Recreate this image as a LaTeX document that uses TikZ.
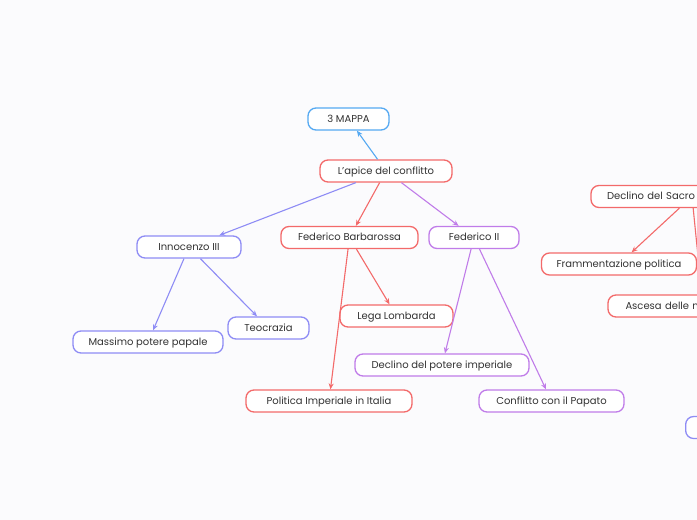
\documentclass[tikz,border=0pt]{standalone}
\usepackage{fontspec}
\setmainfont{Poppins}
\usetikzlibrary{arrows.meta}
\definecolor{mapblue}{HTML}{55A9F2}
\definecolor{mapred}{HTML}{F36A6A}
\definecolor{mapindigo}{HTML}{8E8CF5}
\definecolor{mappurple}{HTML}{C07CE9}
\definecolor{paper}{HTML}{FBFBFD}
\definecolor{ink}{HTML}{333333}

\begin{document}
\begin{tikzpicture}[
    x=1pt, y=-1pt,
    topic/.style={
        draw, line width=1.3pt, fill=white,
        rectangle, rounded corners=8pt,
        minimum height=22pt, inner sep=2pt,
        text height=8pt, text depth=2pt,
        font=\fontsize{10}{11}\selectfont, text=ink,
    },
    link/.style={line width=1.1pt, -{Stealth[length=6pt,width=5pt]}},
]
\fill[paper] (0,0) rectangle (697,520);
\useasboundingbox (0,0) rectangle (697,520);
\clip (0,0) rectangle (697,520);

% Center
\node[topic, draw=mapblue, minimum width=81pt] (mappa) at (348.5,119) {3 MAPPA};
\node[topic, draw=mapred, minimum width=132pt] (apice) at (386,171) {L’apice del conflitto};

% First level
\node[topic, draw=mapindigo, minimum width=104pt] (innocenzo) at (189,247) {Innocenzo III};
\node[topic, draw=mapred, minimum width=137pt] (barbarossa) at (349.5,237.5) {Federico Barbarossa};
\node[topic, draw=mappurple, minimum width=90pt] (federico) at (474,237.5) {Federico II};

% Second level
\node[topic, draw=mapindigo, minimum width=150pt] (massimo) at (148,342) {Massimo potere papale};
\node[topic, draw=mapindigo, minimum width=81pt] (teocrazia) at (268.5,328) {Teocrazia};
\node[topic, draw=mapred, minimum width=113pt] (lega) at (396.5,316) {Lega Lombarda};
\node[topic, draw=mapred, minimum width=166pt] (politica) at (329,401) {Politica Imperiale in Italia};
\node[topic, draw=mappurple, minimum width=174pt] (declino) at (442,365) {Declino del potere imperiale};
\node[topic, draw=mappurple, minimum width=145pt] (conflitto) at (551.5,401) {Conflitto con il Papato};

% Right side (cut off)
\node[topic, draw=mapred, minimum width=202pt, text width=170pt, align=left] (sacro) at (692,196.5) {Declino del Sacro};
\node[topic, draw=mapred, minimum width=155pt] (frammenta) at (619,264) {Frammentazione politica};
\node[topic, draw=mapred, minimum width=190pt, text width=155pt, align=left] (ascesa) at (703,306) {Ascesa delle m};
\node[topic, draw=mapindigo, anchor=west, minimum width=60pt] (altro) at (685,427.5) {};

% Links
\draw[link, mapblue] (apice) -- (mappa);
\draw[link, mapindigo] (apice) -- (innocenzo);
\draw[link, mapred] (apice) -- (barbarossa);
\draw[link, mappurple] (apice) -- (federico);
\draw[link, mapindigo] (innocenzo) -- (massimo);
\draw[link, mapindigo] (innocenzo) -- (teocrazia);
\draw[link, mapred] (barbarossa) -- (politica);
\draw[link, mapred] (barbarossa) -- (lega);
\draw[link, mappurple] (federico) -- (declino);
\draw[link, mappurple] (federico) -- (conflitto);
\draw[link, mapred] (sacro) -- (frammenta);
\draw[link, mapred] (sacro) -- (ascesa);

\end{tikzpicture}
\end{document}
